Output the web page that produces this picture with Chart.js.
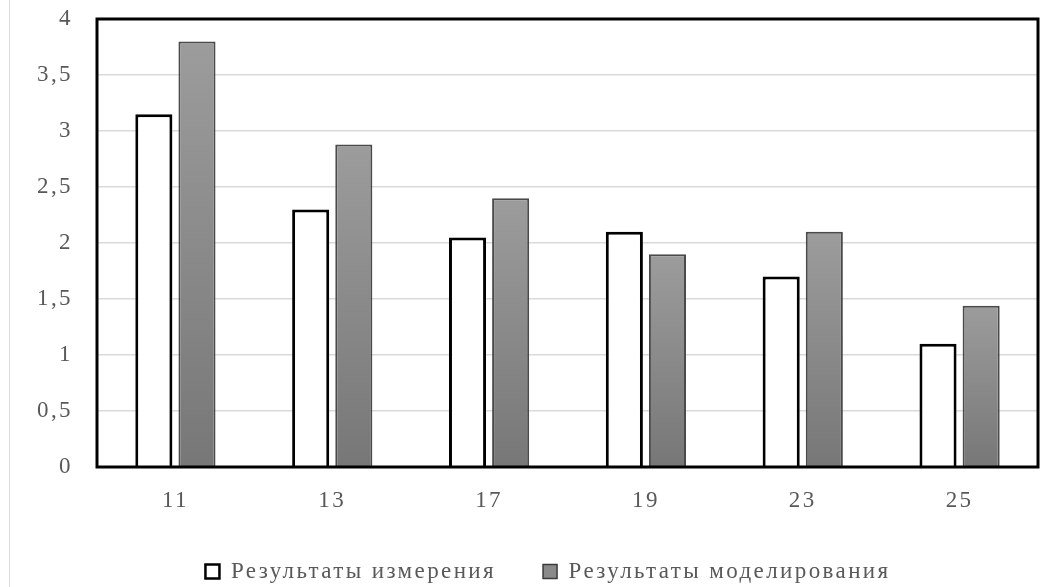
<!DOCTYPE html>
<html lang="ru">
<head>
  <meta charset="UTF-8" />
  <title>Результаты измерения и моделирования</title>
  <script src="https://cdn.jsdelivr.net/npm/chart.js"></script>
  <style>
    html, body { margin: 0; padding: 0; background: #fff; }
    .wrap { position: relative; width: 1062px; height: 587px; }
    .wrap:before { content: ""; position: absolute; left: 9px; top: 0; bottom: 0; border-left: 1px solid #d9d9d9; }
    canvas { display: block; }
  </style>
</head>
<body>
<div class="wrap">
  <canvas id="barChart" width="1062" height="587"></canvas>
</div>

<script>
// harmonic orders and values
const harmonics = ['11', '13', '17', '19', '23', '25'];
const measured  = [3.15, 2.3, 2.05, 2.1, 1.7, 1.1];
const simulated = [3.8, 2.88, 2.4, 1.9, 2.1, 1.44];
const seriesNames = ['Результаты измерения', 'Результаты моделирования'];
const yMax = 4;
const yStep = 0.5;

const textColor = '#595959';
const fontFamily = "'Liberation Serif', 'Times New Roman', serif";
const fontSize = 23;

// vertical gradient per bar, lighter at the top
function grayFill(context) {
  const chart = context.chart;
  const area = chart.chartArea;
  if (!area) return '#8a8a8a';
  const v = context.parsed ? context.parsed.y : 0;
  const top = chart.scales.y.getPixelForValue(v);
  const g = chart.ctx.createLinearGradient(0, top, 0, area.bottom);
  g.addColorStop(0, '#9c9c9c');
  g.addColorStop(1, '#777777');
  return g;
}

// wide-set lettering, applied before measuring and before drawing
const spacing = {
  id: 'spacing',
  beforeUpdate(chart) { chart.ctx.letterSpacing = '2.4px'; },
  beforeDraw(chart) { chart.ctx.letterSpacing = '2.4px'; }
};

// legend sits a little right of the canvas centre
const legendShift = {
  id: 'legendShift',
  afterLayout(chart) {
    chart.legend.left += 29;
    chart.legend.right += 29;
  }
};

// thick black frame round the plot area
const frame = {
  id: 'frame',
  afterDatasetsDraw(chart) {
    const { ctx, chartArea: a } = chart;
    ctx.save();
    ctx.strokeStyle = '#000';
    ctx.lineWidth = 3;
    ctx.strokeRect(a.left, a.top, a.right - a.left, a.bottom - a.top);
    ctx.restore();
  }
};

new Chart(document.getElementById('barChart'), {
  type: 'bar',
  data: {
    labels: harmonics,
    datasets: [
      {
        label: seriesNames[0],
        data: measured,
        backgroundColor: '#ffffff',
        borderColor: '#000000',
        borderWidth: 3,
        borderSkipped: 'bottom'
      },
      {
        label: seriesNames[1],
        data: simulated,
        backgroundColor: grayFill,
        borderColor: '#4a4a4a',
        borderWidth: 2,
        borderSkipped: 'bottom'
      }
    ]
  },
  options: {
    responsive: false,
    animation: false,
    layout: { padding: { top: 19, right: 24, left: 0, bottom: -6 } },
    datasets: {
      bar: { categoryPercentage: 0.55, barPercentage: 0.86 }
    },
    plugins: {
      tooltip: { enabled: false },
      legend: {
        position: 'bottom',
        labels: {
          color: textColor,
          font: { family: fontFamily, size: fontSize },
          boxWidth: 14,
          boxHeight: 14,
          padding: 47,
          generateLabels(chart) {
            return chart.data.datasets.map((ds, i) => ({
              text: ds.label,
              fillStyle: i === 0 ? '#ffffff' : '#8a8a8a',
              strokeStyle: i === 0 ? '#000000' : '#3a3a3a',
              lineWidth: i === 0 ? 2.5 : 1.5,
              fontColor: textColor,
              datasetIndex: i
            }));
          }
        }
      }
    },
    scales: {
      x: {
        grid: { display: false },
        border: { display: false },
        ticks: { color: textColor, font: { family: fontFamily, size: fontSize }, padding: 12 },
        afterFit(scale) { scale.height = 46; }
      },
      y: {
        min: 0,
        max: yMax,
        grid: { color: '#d9d9d9', lineWidth: 1.5, drawTicks: false },
        border: { display: false },
        ticks: {
          stepSize: yStep,
          color: textColor,
          font: { family: fontFamily, size: fontSize },
          padding: 24,
          callback: v => String(v).replace('.', ',')
        },
        afterFit(scale) {
          scale.width = 97;
          scale.paddingTop = 0;
          scale.paddingBottom = 0;
        }
      }
    }
  },
  plugins: [spacing, legendShift, frame]
});
</script>
</body>
</html>
